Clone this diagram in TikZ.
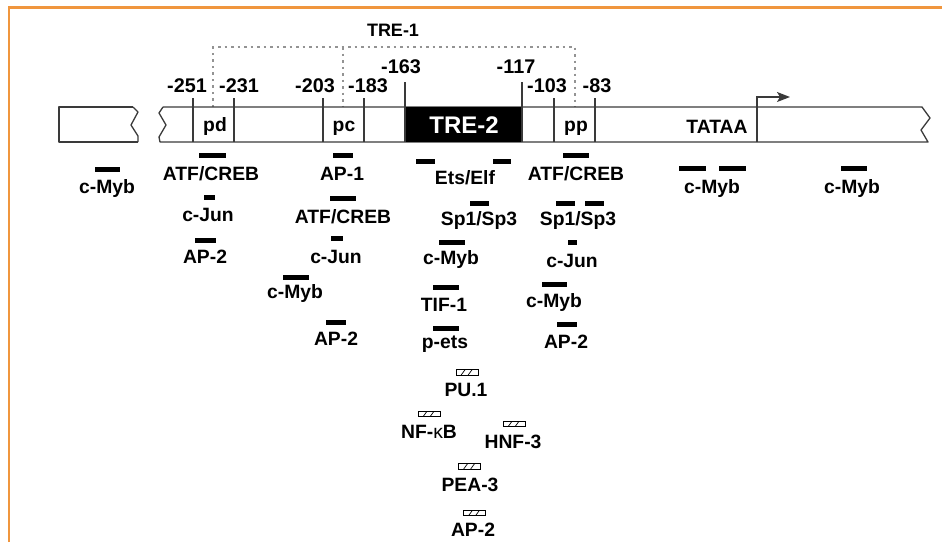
\documentclass[tikz,border=0pt]{standalone}
\usepackage{fontspec}
\setmainfont{Liberation Sans}
\usetikzlibrary{arrows.meta}
\definecolor{frameorange}{HTML}{F0963E}
\definecolor{barline}{HTML}{3A3A3A}
\tikzset{
  lab/.style={font=\fontsize{19.3}{21}\selectfont\bfseries, anchor=base, inner sep=0pt},
  numlab/.style={lab, font=\fontsize{19.8}{21}\selectfont\bfseries},
  fbar/.style={fill=black, draw=none, inner sep=0pt, minimum height=5pt, minimum width=#1},
  hbox/.style={draw=black, line width=0.9pt, fill=white, inner sep=0pt, minimum width=22pt, minimum height=5.5pt,
    path picture={
      \draw[line width=0.7pt] ([xshift=5pt]path picture bounding box.south west) -- ([xshift=9pt]path picture bounding box.north west);
      \draw[line width=0.7pt] ([xshift=12pt]path picture bounding box.south west) -- ([xshift=16pt]path picture bounding box.north west);
    }},
  barstroke/.style={draw=barline, line width=1.3pt, line join=round},
  tick/.style={draw=barline, line width=1.2pt},
  dotline/.style={draw=gray!85, line width=1.4pt, dash pattern=on 2.5pt off 4pt}
}
\begin{document}
\begin{tikzpicture}[x=1pt,y=-1pt]
\useasboundingbox (0,0) rectangle (942,542);
% frame
\draw[frameorange, line width=2.6pt] (9,542) -- (9,7.5) -- (942,7.5);
% dotted TRE-1 bracket
\draw[dotline] (213,107) -- (213,47) -- (575,47) -- (575,107);
\draw[dotline] (343,47) -- (343,107);
\node[lab, font=\fontsize{18}{20}\selectfont\bfseries] (tre1) at (393,36) {TRE-1};
% left segment
\draw[barstroke] (133,107) -- (59,107) -- (59,142) -- (138,142);
\draw[barstroke] (133,107) -- (138,112) -- (131,125) -- (138,136) -- (138,142);
% main segment
\draw[barstroke] (163,107) -- (922,107) -- (930,118) -- (921,130) -- (928,142) -- (160,142) -- (159,137) -- (166,125) -- (159,113) -- (163,107);
% TRE-2 box
\fill[black] (405,107) rectangle (522,142);
% ticks
\foreach \xx in {193,234,323,364,554,595} {\draw[tick] (\xx,98) -- (\xx,142);}
\foreach \xx in {405,522} {\draw[tick] (\xx,82) -- (\xx,142);}
% numbers
\node[numlab] (n251) at (187,92) {-251};
\node[numlab] (n231) at (239,92) {-231};
\node[numlab] (n203) at (315,92) {-203};
\node[numlab] (n183) at (368,92) {-183};
\node[numlab] (n163) at (401,73) {-163};
\node[numlab] (n117) at (516,73) {-117};
\node[numlab] (n103) at (547,92) {-103};
\node[numlab] (n83) at (597,92) {-83};
% bar labels
\node[lab] (pd) at (215,131) {pd};
\node[lab] (pc) at (344,131) {pc};
\node[lab] (pp) at (576,131) {pp};
\node[lab, text=white, font=\fontsize{24}{26}\selectfont\bfseries] (tre2) at (464,133) {TRE-2};
\node[lab] (tataa) at (717,133) {TATAA};
% transcription start
\coordinate (tss) at (757,142);
\coordinate (tsshead) at (790,97);
\draw[draw=barline, line width=1.4pt, -{Stealth[length=13pt,width=10pt,inset=3pt]}] (tss) |- (tsshead);
% factor bars
\node[fbar=25pt] (b1) at (107.5,169) {};
\node[fbar=27pt] (b2) at (212.5,155) {};
\node[fbar=11pt] (b3) at (209.5,197) {};
\node[fbar=21pt] (b4) at (205.5,240) {};
\node[fbar=20pt] (b5) at (343,155) {};
\node[fbar=26pt] (b6) at (343,198) {};
\node[fbar=12pt] (b7) at (337,238) {};
\node[fbar=26pt] (b8) at (296,277) {};
\node[fbar=20pt] (b9) at (336,322) {};
\node[fbar=19pt] (b10) at (425.5,161) {};
\node[fbar=18pt] (b11) at (502,161) {};
\node[fbar=26pt] (b12) at (576,155) {};
\node[fbar=19pt] (b13) at (479.5,203) {};
\node[fbar=19pt] (b14) at (565.5,203) {};
\node[fbar=19pt] (b15) at (594.5,203) {};
\node[fbar=26pt] (b16) at (452,242) {};
\node[fbar=9pt] (b17) at (572.5,242) {};
\node[fbar=26pt] (b18) at (446,287) {};
\node[fbar=25pt] (b19) at (554.5,284) {};
\node[fbar=26pt] (b20) at (446,328) {};
\node[fbar=20pt] (b21) at (567,324) {};
\node[fbar=27pt] (b22) at (692.5,168) {};
\node[fbar=27pt] (b23) at (732.5,168) {};
\node[fbar=26pt] (b24) at (854,168) {};
% hatched boxes
\node[hbox] (h1) at (467,372.5) {};
\node[hbox] (h2) at (429,414) {};
\node[hbox] (h3) at (514,424) {};
\node[hbox] (h4) at (469.5,466.5) {};
\node[hbox] (h5) at (474.5,513) {};
% factor labels
\node[lab] (l1) at (107,193) {c-Myb};
\node[lab] (l2) at (211,180) {ATF/CREB};
\node[lab] (l3) at (208,221) {c-Jun};
\node[lab] (l4) at (205,263) {AP-2};
\node[lab] (l5) at (342,180) {AP-1};
\node[lab] (l6) at (343,223) {ATF/CREB};
\node[lab] (l7) at (336,263) {c-Jun};
\node[lab] (l8) at (295,298) {c-Myb};
\node[lab] (l9) at (336,345) {AP-2};
\node[lab] (l10) at (465,184) {Ets/Elf};
\node[lab] (l11) at (576,180) {ATF/CREB};
\node[lab] (l12) at (479,225) {Sp1/Sp3};
\node[lab] (l13) at (578,225) {Sp1/Sp3};
\node[lab] (l14) at (451,264) {c-Myb};
\node[lab] (l15) at (572,267) {c-Jun};
\node[lab] (l16) at (444,311) {TIF-1};
\node[lab] (l17) at (554,307) {c-Myb};
\node[lab] (l18) at (445,348) {p-ets};
\node[lab] (l19) at (566,348) {AP-2};
\node[lab] (l20) at (712,193) {c-Myb};
\node[lab] (l21) at (852,193) {c-Myb};
\node[lab] (l22) at (466,396) {PU.1};
\node[lab] (l23) at (429,438) {NF-{\mdseries κ}B};
\node[lab] (l24) at (513,448) {HNF-3};
\node[lab] (l25) at (470,491) {PEA-3};
\node[lab] (l26) at (473,536) {AP-2};
\end{tikzpicture}
\end{document}
